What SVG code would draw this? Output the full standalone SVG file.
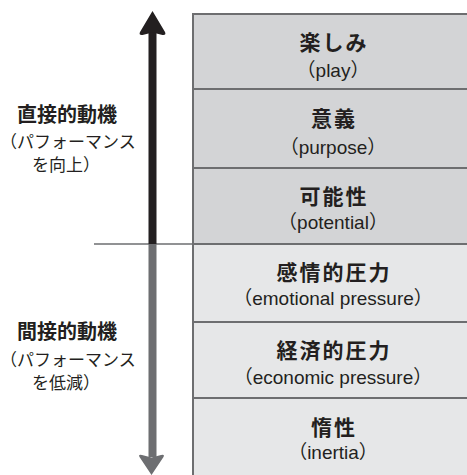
<svg xmlns="http://www.w3.org/2000/svg" width="467" height="475" viewBox="0 0 467 475">
<style>
.jp{font-family:"Noto Sans CJK JP","Noto Sans",sans-serif;fill:#231f20}
.h{font-size:21px;font-weight:bold;letter-spacing:2px;text-anchor:middle}
.s{font-family:"Liberation Sans","Noto Sans CJK JP",sans-serif;font-size:19px;text-anchor:middle}
.lh{font-size:20px;font-weight:bold;text-anchor:middle}
.ls{font-size:17px}
.box{stroke:#6d6e70;stroke-width:2}
.top{fill:#d3d4d6}
.bot{fill:#e6e7e8}
</style>
<rect width="467" height="475" fill="#ffffff"/>
<g id="connectors">
<line x1="94" y1="244" x2="192" y2="244" stroke="#6d6e70" stroke-width="1.5"/>
<rect x="148.5" y="30" width="8" height="214" fill="#231f20"/>
<path d="M152.5,11 L165,32 Q166.5,35.5 162.5,35 L152.5,32.5 L142.5,35 Q138.5,35.5 140,32 Z" fill="#231f20"/>
<rect x="148.5" y="244" width="8" height="213" fill="#6d6e71"/>
<path d="M151.5,475 L139.5,457 Q138,454 142,455 L151.5,457.5 L161,455 Q165,454 163.5,457 Z" fill="#6d6e71"/>
</g>
<g id="node-play">
<rect class="box top" x="193" y="14" width="280" height="75"/>
<text class="jp h" x="334" y="50">楽しみ</text>
<text class="jp s" x="333" y="77">（play）</text>
</g>
<g id="node-purpose">
<rect class="box top" x="193" y="89" width="280" height="79"/>
<text class="jp h" x="334" y="126">意義</text>
<text class="jp s" x="333" y="154">（purpose）</text>
</g>
<g id="node-potential">
<rect class="box top" x="193" y="168" width="280" height="76"/>
<text class="jp h" x="334" y="204">可能性</text>
<text class="jp s" x="333" y="229">（potential）</text>
</g>
<g id="node-emotional">
<rect class="box bot" x="193" y="244" width="280" height="78"/>
<text class="jp h" x="334" y="280">感情的圧力</text>
<text class="jp s" x="333" y="305">（emotional pressure）</text>
</g>
<g id="node-economic">
<rect class="box bot" x="193" y="322" width="280" height="76"/>
<text class="jp h" x="334" y="358">経済的圧力</text>
<text class="jp s" x="333" y="384">（economic pressure）</text>
</g>
<g id="node-inertia">
<rect class="box bot" x="193" y="398" width="280" height="85"/>
<text class="jp h" x="334" y="435">惰性</text>
<text class="jp s" x="333" y="459">（inertia）</text>
</g>
<g id="label-direct">
<text class="jp lh" x="67" y="122">直接的動機</text>
<text class="jp ls" x="0" y="148">（パフォーマンス</text>
<text class="jp ls" x="32" y="171">を向上）</text>
</g>
<g id="label-indirect">
<text class="jp lh" x="67" y="339">間接的動機</text>
<text class="jp ls" x="0" y="366">（パフォーマンス</text>
<text class="jp ls" x="32" y="389">を低減）</text>
</g>
</svg>
